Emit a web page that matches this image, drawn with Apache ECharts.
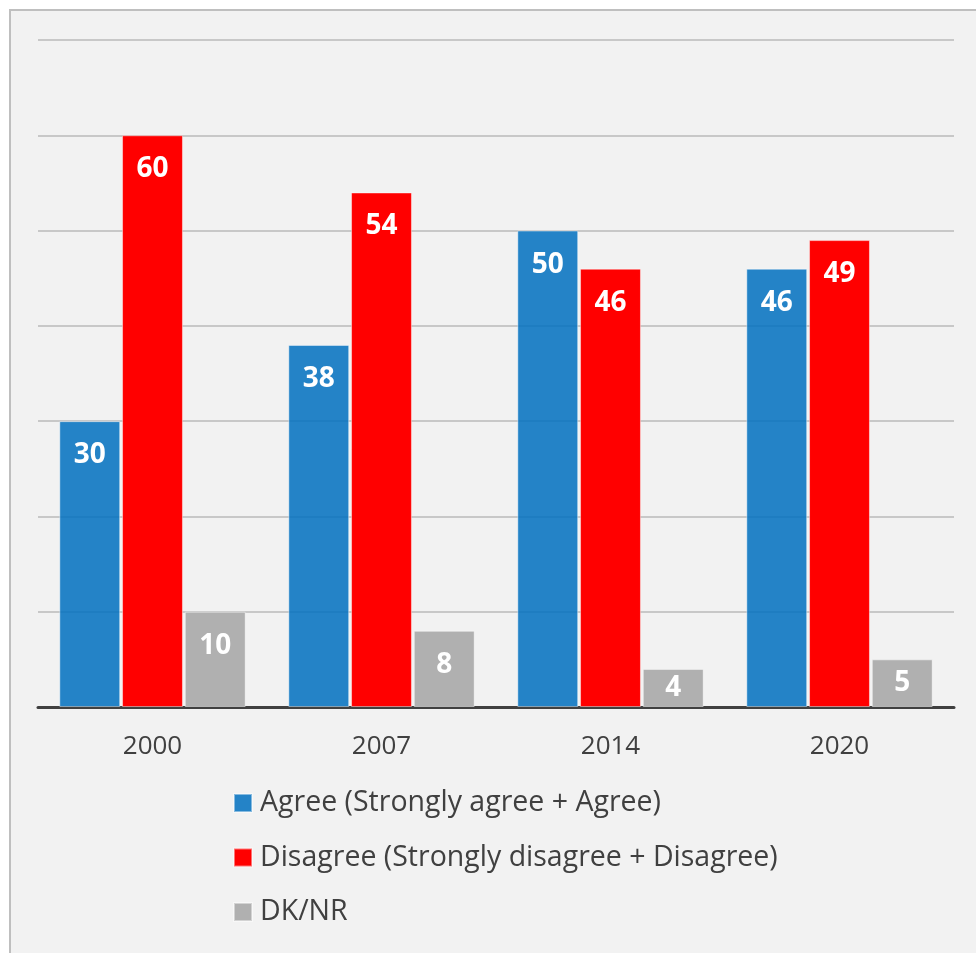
<!DOCTYPE html>
<html>
<head>
<meta charset="utf-8">
<script src="https://cdn.jsdelivr.net/npm/echarts@6/dist/echarts.min.js"></script>
<style>
  html, body { margin: 0; padding: 0; background: #ffffff; width: 976px; height: 953px; overflow: hidden; }
  #frame { position: absolute; left: 9px; top: 9px; width: 1000px; height: 1000px; border: 2px solid #bfbfbf; background: #f2f2f2; }
  #chart { position: absolute; left: 0; top: 0; width: 976px; height: 953px; }
</style>
</head>
<body>
<div id="frame"></div>
<div id="chart"></div>
<script>
const years = ['2000', '2007', '2014', '2020'];
const agree = [30, 38, 50, 46];
const disagree = [60, 54, 46, 49];
const dknr = [10, 8, 4, 5];
const seriesNames = ['Agree (Strongly agree + Agree)', 'Disagree (Strongly disagree + Disagree)', 'DK/NR'];
const colors = ['rgba(0,112,192,0.85)', '#ff0000', '#b0b0b0'];

const FONT = 'Open Sans';

function makeData(values) {
  return values.map(v => v < 6 ? { value: v, label: { position: 'inside' } } : v);
}

function makeSeries(name, values, color) {
  return {
    name: name,
    type: 'bar',
    data: makeData(values),
    barWidth: '26.6%',
    barGap: '3%',
    itemStyle: { color: color, borderColor: 'rgba(255,255,255,0.45)', borderWidth: 1 },
    label: {
      show: true,
      position: 'insideTop',
      distance: 20,
      color: '#ffffff',
      fontFamily: FONT,
      fontWeight: 'bold',
      fontSize: 28
    }
  };
}

const chart = echarts.init(document.getElementById('chart'));
chart.setOption({
  backgroundColor: 'transparent',
  animation: false,
  color: colors,
  grid: { left: 38, right: 22, top: 40, bottom: 246, containLabel: false },
  legend: {
    orient: 'vertical',
    left: 233,
    top: 787,
    padding: 0,
    itemWidth: 18,
    itemHeight: 18,
    itemGap: 22.5,
    icon: 'rect',
    textStyle: { fontFamily: FONT, fontSize: 28.5, color: '#404040', lineHeight: 32, padding: [0, 0, 0, 3] },
    data: seriesNames
  },
  xAxis: {
    type: 'category',
    data: years,
    axisLine: { lineStyle: { color: '#404040', width: 3 } },
    axisTick: { show: false },
    axisLabel: { fontFamily: FONT, fontSize: 26, color: '#404040', margin: 27 }
  },
  yAxis: {
    type: 'value',
    min: 0,
    max: 70,
    interval: 10,
    axisLabel: { show: false },
    axisLine: { show: false },
    axisTick: { show: false },
    splitLine: { lineStyle: { color: '#c8c8c8', width: 2 } }
  },
  series: [
    makeSeries(seriesNames[0], agree, colors[0]),
    makeSeries(seriesNames[1], disagree, colors[1]),
    makeSeries(seriesNames[2], dknr, colors[2])
  ]
});
</script>
</body>
</html>
